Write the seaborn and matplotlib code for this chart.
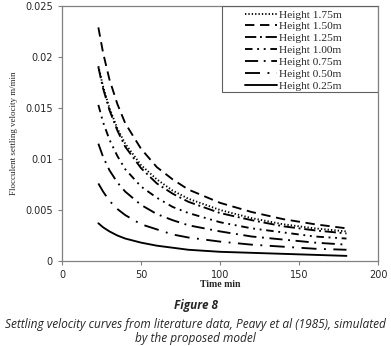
import pandas as pd
import seaborn as sns
import matplotlib.pyplot as plt
from matplotlib.patches import Rectangle

# time (min) and settling velocity (m/min)
time_min = [23, 26, 30, 35, 40, 50, 60, 70, 80, 100, 120, 140, 160, 180]

v_175 = [0.0191, 0.0171, 0.0150, 0.0130, 0.0115, 0.0094, 0.0080, 0.0069, 0.0061, 0.0050, 0.0042, 0.0036, 0.0032, 0.0029]
v_150 = [0.0229, 0.0204, 0.0178, 0.0154, 0.0135, 0.0110, 0.0092, 0.0080, 0.0070, 0.0057, 0.0048, 0.0041, 0.0036, 0.0032]
v_125 = [0.0190, 0.0169, 0.0148, 0.0128, 0.0112, 0.0091, 0.0076, 0.0066, 0.0058, 0.0047, 0.0040, 0.0034, 0.0030, 0.0027]
v_100 = [0.0153, 0.0136, 0.0119, 0.0103, 0.0090, 0.0073, 0.0062, 0.0053, 0.0047, 0.0038, 0.0032, 0.0028, 0.0024, 0.0022]
v_075 = [0.0115, 0.0102, 0.0089, 0.0077, 0.0068, 0.0055, 0.0046, 0.0040, 0.0035, 0.0029, 0.0024, 0.0021, 0.0018, 0.0016]
v_050 = [0.0076, 0.0068, 0.0059, 0.0051, 0.0045, 0.0036, 0.0031, 0.0026, 0.0023, 0.0019, 0.0016, 0.0014, 0.0012, 0.0011]
v_025 = [0.0037, 0.0033, 0.0029, 0.0025, 0.0022, 0.0018, 0.0015, 0.0013, 0.0011, 0.0009, 0.0008, 0.0007, 0.0006, 0.0005]

labels = ['Height 1.75m', 'Height 1.50m', 'Height 1.25m', 'Height 1.00m',
          'Height 0.75m', 'Height 0.50m', 'Height 0.25m']
series = [v_175, v_150, v_125, v_100, v_075, v_050, v_025]

rows = []
for lab, vals in zip(labels, series):
    for t, v in zip(time_min, vals):
        rows.append({'t': t, 'v': v, 'h': lab})
df = pd.DataFrame(rows)

dashes = {
    'Height 1.75m': (0.7, 1.1),
    'Height 1.50m': (5, 3),
    'Height 1.25m': (6, 2, 1, 2),
    'Height 1.00m': (4, 2.5, 1, 2.5, 1, 2.5),
    'Height 0.75m': (7, 3, 1, 3),
    'Height 0.50m': (8, 4, 1, 4),
    'Height 0.25m': '',
}

sns.set_style('white')
plt.rcParams['font.family'] = ['DejaVu Sans']

fig = plt.figure(figsize=(3.91, 3.46), dpi=100)
ax = fig.add_axes([0.1586, 0.2457, 0.8084, 0.737])

sns.lineplot(data=df, x='t', y='v', style='h', style_order=labels, dashes=dashes,
             color='black', linewidth=1.35, ax=ax)

ax.set_xlim(0, 200)
ax.set_ylim(0, 0.025)
ax.set_xticks([0, 50, 100, 150, 200])
ax.set_yticks([0, 0.005, 0.01, 0.015, 0.02, 0.025])
ax.set_yticklabels(['0', '0.005', '0.01', '0.015', '0.02', '0.025'])
ax.tick_params(axis='both', labelsize=7, length=3, width=0.8, color='#808080',
               direction='out', pad=3.5, left=True, bottom=True)
for s in ax.spines.values():
    s.set_color('#808080')
    s.set_linewidth(0.9)

ax.set_xlabel('Time min', family='Liberation Serif', fontweight='bold', fontsize=7, labelpad=0)
ax.set_ylabel('Flocculent settling velocity m/min', family='Liberation Serif', fontsize=6.5, labelpad=5)

# legend box as in the original
ax.add_patch(Rectangle((0.506, 0.663), 0.494, 0.337, transform=ax.transAxes,
                       fill=False, edgecolor='#606060', linewidth=0.8, zorder=5))
sns.move_legend(ax, 'upper left', bbox_to_anchor=(0.57, 0.997), title=None, frameon=False,
                prop={'family': 'Liberation Serif', 'size': 8.2}, handlelength=2.8,
                handletextpad=0.15, labelspacing=0.17, borderaxespad=0, borderpad=0.25)

fig.text(0.5, 0.106, 'Figure 8', ha='center', family='Open Sans', fontstyle='italic',
         fontweight='bold', fontsize=8.5)
fig.text(0.5, 0.012, 'Settling velocity curves from literature data, Peavy et al (1985), simulated\nby the proposed model',
         ha='center', family='Open Sans', fontstyle='italic', fontsize=8.6, linespacing=1.1)

plt.savefig('out.png', dpi=100)
